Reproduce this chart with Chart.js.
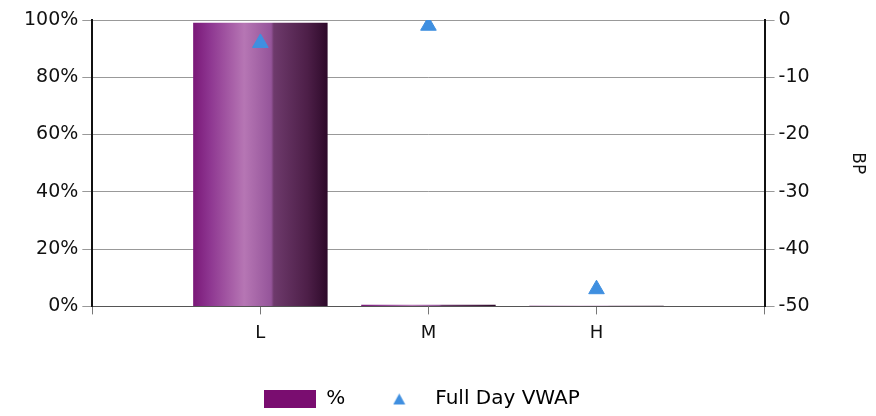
<!DOCTYPE html>
<html>
<head>
<meta charset="UTF-8">
<script src="https://cdn.jsdelivr.net/npm/chart.js"></script>
<style>
body { margin: 0; background: #fff; }
#wrap { width: 876px; height: 416px; }
</style>
</head>
<body>
<div id="wrap"><canvas id="chart"></canvas></div>
<script>
// blank slots at both ends so L/M/H sit on quarter marks like the original
const categories = ['', 'L', 'M', 'H', ''];
const pctValues = [null, 99, 0.6, 0.2, null];
const vwapValues = [null, -4, -1, -47, null];
const leftTicks = [0, 20, 40, 60, 80, 100];
const rightTicks = [-50, -40, -30, -20, -10, 0];

const FONT = 'DejaVu Sans';

function barGradient(ctx) {
  const c = ctx.chart, x = c.scales.x;
  if (!x || !c.chartArea) return '#7a1f7a';
  const step = x.getPixelForValue(1) - x.getPixelForValue(0);
  const w = step * 0.8;
  const cx = x.getPixelForValue(ctx.dataIndex);
  const g = c.ctx.createLinearGradient(cx - w / 2, 0, cx + w / 2, 0);
  g.addColorStop(0, '#7a1878');
  g.addColorStop(0.12, '#8d3590');
  g.addColorStop(0.38, '#b676b4');
  g.addColorStop(0.58, '#95559a');
  g.addColorStop(0.6, '#6e3a6c');
  g.addColorStop(0.85, '#4d1f48');
  g.addColorStop(1, '#2e0a2a');
  return g;
}

function legendSwatch(kind) {
  const cv = document.createElement('canvas');
  const cx = cv.getContext('2d');
  if (kind === 'bar') {
    cv.width = 52; cv.height = 18;
    cx.fillStyle = '#7a0d70';
    cx.fillRect(0, 0, 52, 18);
  } else {
    cv.width = 13; cv.height = 13;
    cx.fillStyle = '#3f8fe0';
    cx.beginPath(); cx.moveTo(6.5, 1); cx.lineTo(12.5, 12); cx.lineTo(0.5, 12); cx.closePath(); cx.fill();
  }
  return cv;
}

const barSwatch = legendSwatch('bar');
const triSwatch = legendSwatch('tri');

// the original legend sits a little left of centre and lower
const nudgeLegend = {
  id: 'nudgeLegend',
  afterLayout(chart) {
    const l = chart.legend;
    if (!l) return;
    l.left -= 22; l.right -= 22;
    l.top += 9; l.bottom += 9;
  }
};

new Chart(document.getElementById('chart'), {
  data: {
    labels: categories,
    datasets: [
      {
        type: 'scatter', label: 'Full Day VWAP', data: vwapValues, yAxisID: 'y2',
        pointStyle: 'triangle', pointRadius: 9, pointBackgroundColor: '#3f8fe0', pointBorderColor: '#3f8fe0',
        showLine: false, order: 0
      },
      {
        type: 'bar', label: '%', data: pctValues, yAxisID: 'y',
        backgroundColor: barGradient, barPercentage: 0.8, categoryPercentage: 1, order: 1
      }
    ]
  },
  options: {
    responsive: true, maintainAspectRatio: false, animation: false,
    layout: { padding: { left: 20, right: 8, top: 20, bottom: 6 } },
    plugins: {
      tooltip: { enabled: false },
      legend: {
        position: 'bottom', reverse: true,
        labels: {
          usePointStyle: true, pointStyleWidth: 52, boxHeight: 18, padding: 28,
          color: '#111', font: { family: FONT, size: 20 },
          generateLabels: chart => chart.data.datasets.map((d, i) => ({
            text: d.label, pointStyle: d.type === 'bar' ? barSwatch : triSwatch,
            datasetIndex: i, hidden: false, lineWidth: 0, strokeStyle: 'transparent', fillStyle: 'transparent'
          }))
        }
      }
    },
    scales: {
      x: {
        type: 'category', offset: false,
        grid: { drawOnChartArea: false, offset: false, color: '#777', tickLength: 8 },
        border: { color: '#555', width: 1 },
        ticks: { color: '#111', font: { family: FONT, size: 18 }, padding: 8, autoSkip: false, maxRotation: 0 }
      },
      y: {
        position: 'left', min: 0, max: 100,
        afterBuildTicks: s => { s.ticks = leftTicks.map(v => ({ value: v })); },
        grid: { color: '#999', tickLength: 10 },
        border: { color: '#111', width: 2 },
        ticks: { color: '#111', font: { family: FONT, size: 19 }, padding: 4, callback: v => v + '%' }
      },
      y2: {
        position: 'right', min: -50, max: 0,
        afterBuildTicks: s => { s.ticks = rightTicks.map(v => ({ value: v })); },
        grid: { drawOnChartArea: false, color: '#999', tickLength: 10 },
        border: { color: '#111', width: 2 },
        ticks: { color: '#111', font: { family: FONT, size: 19 }, padding: 4 },
        title: { display: true, text: 'BP', color: '#111', font: { family: FONT, size: 17 }, padding: { top: 0, bottom: 34 } }
      }
    }
  },
  plugins: [nudgeLegend]
});
</script>
</body>
</html>
